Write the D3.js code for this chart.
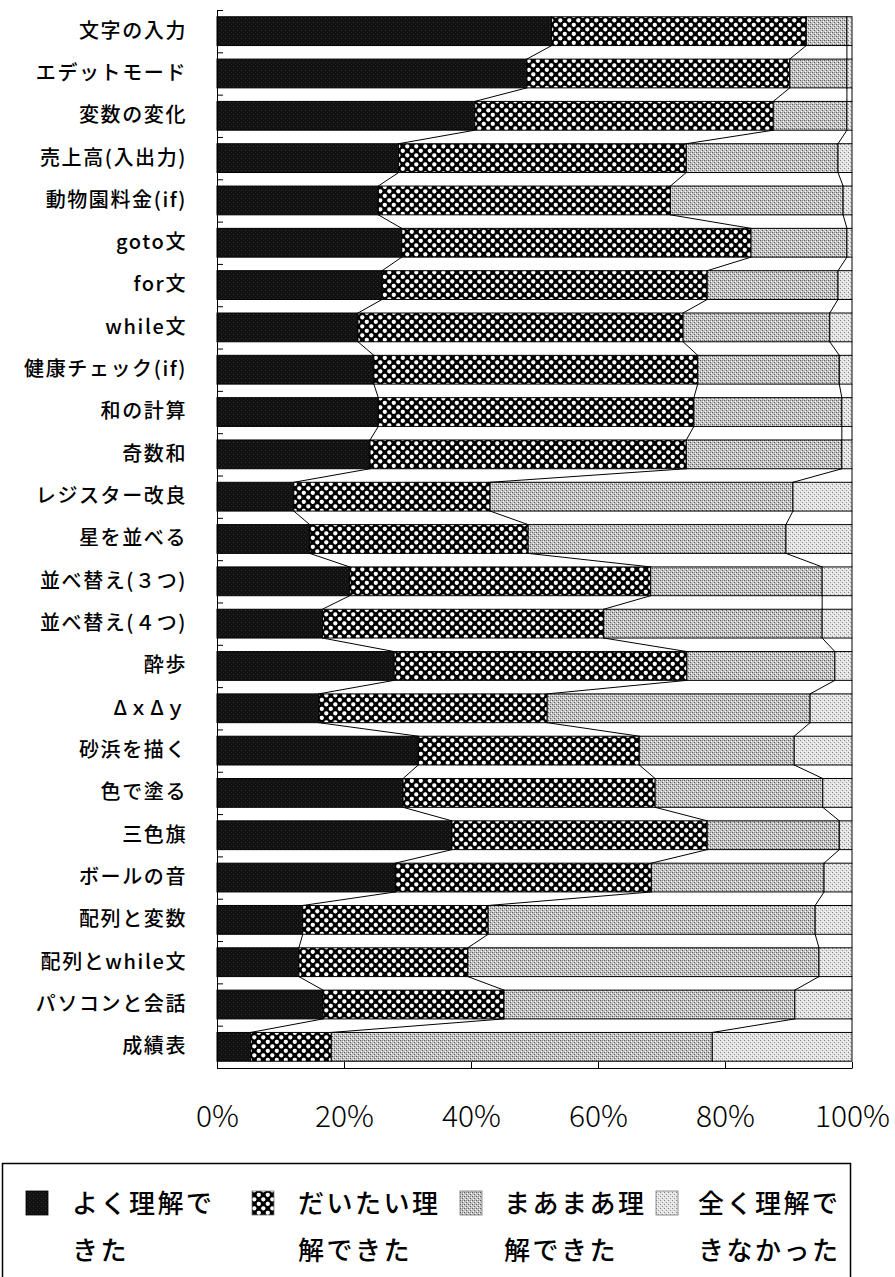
<!DOCTYPE html>
<html>
<head>
<meta charset="utf-8">
<script src="https://cdn.jsdelivr.net/npm/d3@7"></script>
<style>
  html, body { margin: 0; padding: 0; background: #fff; }
  svg { display: block; }
</style>
</head>
<body>
<svg id="chart" width="895" height="1277"></svg>
<script>
// Lesson topics, top to bottom
const categories = [
  "文字の入力", "エデットモード", "変数の変化", "売上高(入出力)", "動物園料金(if)",
  "goto文", "for文", "while文", "健康チェック(if)", "和の計算", "奇数和",
  "レジスター改良", "星を並べる", "並べ替え(３つ)", "並べ替え(４つ)", "酔歩",
  "ΔｘΔｙ", "砂浜を描く", "色で塗る", "三色旗", "ボールの音",
  "配列と変数", "配列とwhile文", "パソコンと会話", "成績表"
];

// Response levels (stack order, left to right)
const levels = ["よく理解できた", "だいたい理解できた", "まあまあ理解できた", "全く理解できなかった"];
const legendLines = [["よく理解で", "きた"], ["だいたい理", "解できた"], ["まあまあ理", "解できた"], ["全く理解で", "きなかった"]];

// Share of students per level (%)
const wellUnderstood     = [52.7, 48.8, 40.6, 28.6, 25.4, 29.1, 26.0, 22.2, 24.7, 25.4, 24.1, 12.1, 14.6, 20.9, 16.6, 27.9, 16.0, 31.7, 29.3, 37.0, 28.1, 13.5, 12.9, 16.7, 5.3];
const mostlyUnderstood   = [40.1, 41.4, 47.0, 45.3, 46.0, 55.0, 51.2, 51.2, 51.0, 49.7, 49.8, 30.9, 34.4, 47.4, 44.3, 46.1, 36.0, 34.8, 39.7, 40.2, 40.3, 29.2, 26.6, 28.5, 12.7];
const somewhatUnderstood = [6.4, 9.0, 11.6, 23.9, 27.2, 15.1, 20.6, 23.1, 22.3, 23.3, 24.5, 47.7, 40.6, 27.0, 34.4, 23.3, 41.4, 24.4, 26.4, 20.8, 27.2, 51.5, 55.3, 45.8, 60.0];
const notUnderstood      = [0.8, 0.8, 0.8, 2.2, 1.4, 0.8, 2.2, 3.5, 2.0, 1.6, 1.6, 9.3, 10.4, 4.7, 4.7, 2.7, 6.6, 9.1, 4.6, 2.0, 4.4, 5.8, 5.2, 9.0, 22.0];

const tickValues = [0, 20, 40, 60, 80, 100];
const tickLabels = ["0%", "20%", "40%", "60%", "80%", "100%"];

const seriesValues = [wellUnderstood, mostlyUnderstood, somewhatUnderstood, notUnderstood];
const rows = categories.map((c, i) => {
  const r = { category: c };
  levels.forEach((k, j) => { r[k] = seriesValues[j][i]; });
  return r;
});

const svg = d3.select("#chart");
const jpFont = "'Noto Sans CJK JP', 'Noto Sans', sans-serif";

// ---- fill patterns ----
const defs = svg.append("defs");

function stipple(id, size, bg, dots) {
  const p = defs.append("pattern").attr("id", id)
    .attr("patternUnits", "userSpaceOnUse").attr("width", size).attr("height", size);
  p.append("rect").attr("width", size).attr("height", size).attr("fill", bg);
  dots.forEach(([px, py, c]) => p.append("rect").attr("x", px).attr("y", py)
    .attr("width", 1).attr("height", 1).attr("fill", c));
  return p;
}

stipple("pat-solid", 4, "#111", [[1, 2, "#333"], [3, 0, "#222"]]);

// checkerboard with rounded white cells
const check = defs.append("pattern").attr("id", "pat-check")
  .attr("patternUnits", "userSpaceOnUse").attr("width", 9).attr("height", 9);
check.append("rect").attr("width", 9).attr("height", 9).attr("fill", "#000");
[[0, 0], [4.5, 4.5]].forEach(([px, py]) => check.append("rect")
  .attr("x", px + 0.2).attr("y", py + 0.2).attr("width", 4.2).attr("height", 4.2)
  .attr("rx", 1.8).attr("fill", "#fff"));

stipple("pat-dense", 4, "#c4c4c4", [[0, 0, "#555"], [2, 2, "#555"], [1, 3, "#fff"], [3, 1, "#fff"], [2, 0, "#8a8a8a"]]);
stipple("pat-light", 4, "#e2e2e2", [[0, 0, "#888"], [2, 2, "#999"], [1, 3, "#fff"], [3, 1, "#fff"]]);

const fills = ["url(#pat-solid)", "url(#pat-check)", "url(#pat-dense)", "url(#pat-light)"];

// ---- scales ----
const x = d3.scaleLinear().domain([0, 100]).range([217, 852]);
const y = d3.scaleBand().domain(categories).range([10, 1068]).paddingInner(0.32).paddingOuter(0.16);
const bw = y.bandwidth();

const stacked = d3.stack().keys(levels)(rows);

// ---- bars ----
const barG = svg.append("g");
stacked.forEach((s, si) => {
  barG.append("g")
    .selectAll("rect")
    .data(s)
    .join("rect")
    .attr("x", d => x(d[0]))
    .attr("y", d => y(d.data.category))
    .attr("width", d => x(d[1]) - x(d[0]))
    .attr("height", bw)
    .attr("fill", fills[si])
    .attr("stroke", "#000")
    .attr("stroke-width", 1);
});

// ---- series lines joining segment ends between neighbouring bars ----
const lineG = svg.append("g").attr("fill", "none").attr("stroke", "#000").attr("stroke-width", 1);
stacked.forEach(s => {
  for (let i = 0; i < s.length - 1; i++) {
    const a = s[i], b = s[i + 1];
    lineG.append("line")
      .attr("x1", x(a[1])).attr("y1", y(a.data.category) + bw)
      .attr("x2", x(b[1])).attr("y2", y(b.data.category));
  }
});

// ---- category axis: boundary ticks ----
const yIdx = d3.scaleLinear().domain([0, categories.length]).range([10, 1068]);
svg.append("g")
  .attr("transform", "translate(217,0)")
  .call(d3.axisRight(yIdx).tickValues(d3.range(categories.length + 1)).tickSize(6).tickSizeOuter(0).tickFormat(""))
  .call(g => g.selectAll("line,path").attr("stroke", "#000").attr("stroke-width", 1));

// ---- category labels ----
svg.append("g")
  .attr("transform", "translate(217,0)")
  .call(d3.axisLeft(y).tickSize(0).tickPadding(30))
  .call(g => g.select(".domain").remove())
  .call(g => g.selectAll("text")
    .attr("font-family", jpFont)
    .attr("font-size", 20)
    .attr("font-weight", 500)
    .attr("letter-spacing", "1.6px")
    .attr("fill", "#000"));

// ---- value axis ----
svg.append("g")
  .attr("transform", "translate(0,1068)")
  .call(d3.axisBottom(x).tickValues(tickValues).tickSize(-6).tickSizeOuter(0).tickPadding(38)
    .tickFormat((d, i) => tickLabels[i]))
  .call(g => g.selectAll("line,path").attr("stroke", "#000").attr("stroke-width", 1))
  .call(g => g.selectAll("text")
    .attr("font-family", jpFont)
    .attr("font-size", 30)
    .attr("font-weight", 300)
    .attr("fill", "#000"));

// ---- legend ----
const legend = svg.append("g");
legend.append("rect")
  .attr("x", 2.5).attr("y", 1163.5).attr("width", 848).attr("height", 140)
  .attr("fill", "#fff").attr("stroke", "#000").attr("stroke-width", 1.5);

const swatchX = [26, 252, 460, 656];
const textX = [72, 298, 504, 698];
levels.forEach((k, i) => {
  legend.append("rect")
    .attr("x", swatchX[i]).attr("y", 1191).attr("width", 22).attr("height", 24)
    .attr("fill", fills[i]).attr("stroke", i === 0 ? "#000" : "#777").attr("stroke-width", 0.8);
  const t = legend.append("text")
    .attr("font-family", jpFont).attr("font-size", 26).attr("font-weight", 500)
    .attr("letter-spacing", "2.5px").attr("fill", "#000");
  legendLines[i].forEach((line, li) => {
    t.append("tspan").attr("x", textX[i]).attr("y", 1213 + li * 47).text(line);
  });
});
</script>
</body>
</html>
